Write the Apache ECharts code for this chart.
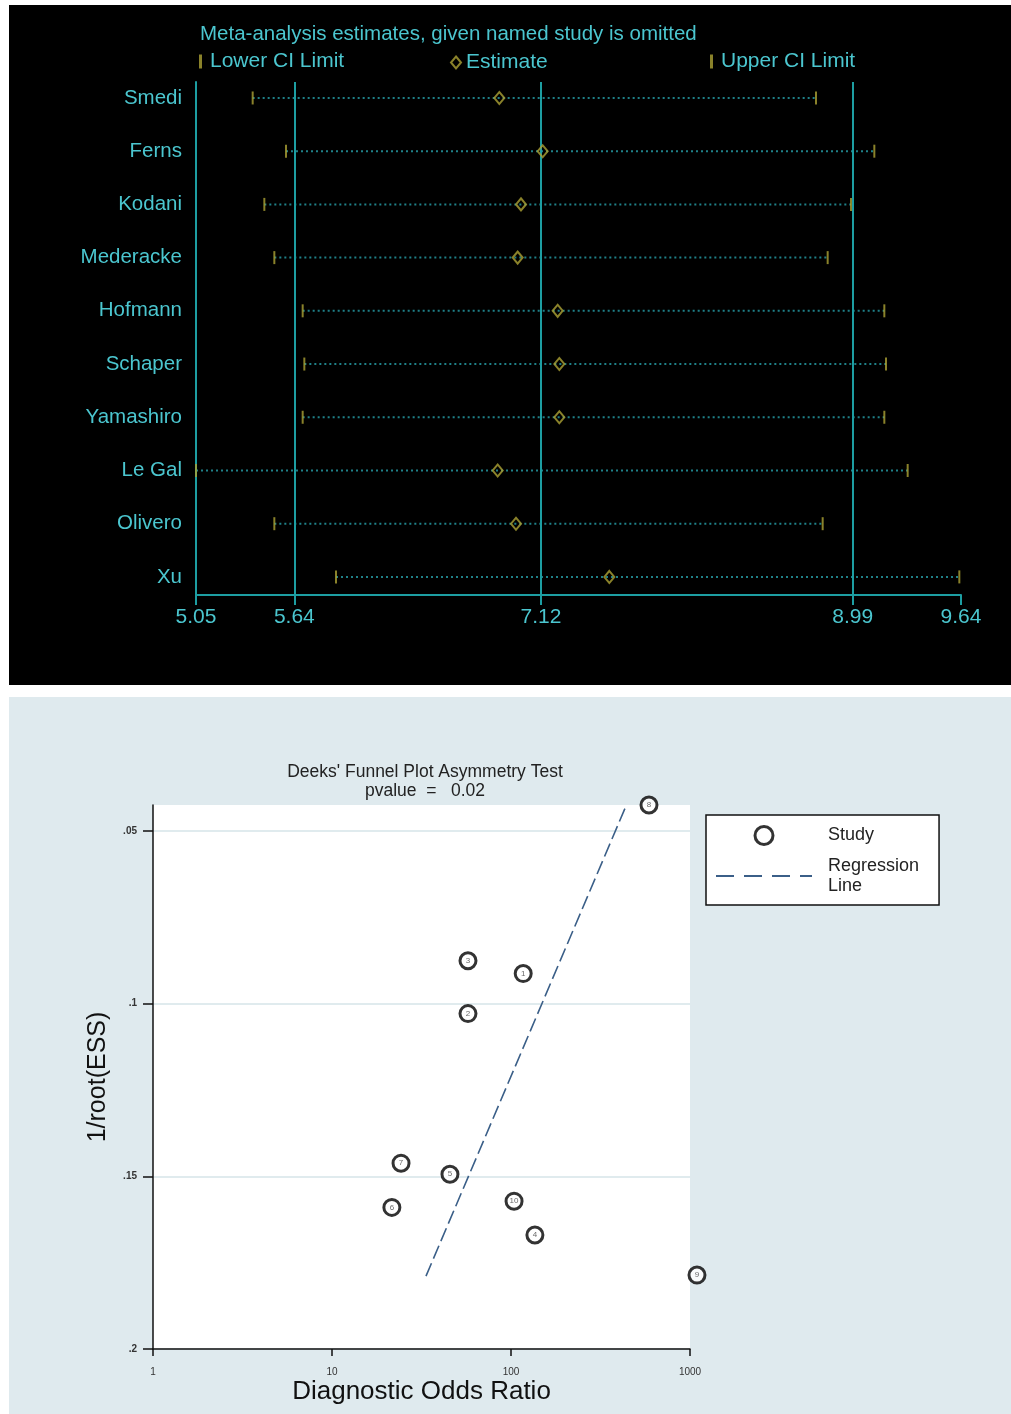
<!DOCTYPE html>
<html>
<head>
<meta charset="utf-8">
<script src="https://cdn.jsdelivr.net/npm/echarts@6/dist/echarts.min.js"></script>
<style>
  html, body { margin: 0; padding: 0; background: #fff; }
  #main { width: 1011px; height: 1414px; }
</style>
</head>
<body>
<div id="main"></div>
<script>
// top panel: leave-one-out sensitivity analysis
var studies = ['Smedi', 'Ferns', 'Kodani', 'Mederacke', 'Hofmann', 'Schaper', 'Yamashiro', 'Le Gal', 'Olivero', 'Xu'];
var lowerCI = [5.39, 5.59, 5.46, 5.52, 5.69, 5.70, 5.69, 5.05, 5.52, 5.89];
var estimate = [6.87, 7.13, 7.00, 6.98, 7.22, 7.23, 7.23, 6.86, 6.97, 7.53];
var upperCI = [8.77, 9.12, 8.98, 8.84, 9.18, 9.19, 9.18, 9.32, 8.81, 9.63];
var refLines = [5.64, 7.12, 8.99];
var topTicks = [5.05, 5.64, 7.12, 8.99, 9.64];

// bottom panel: Deeks' funnel plot
var studyNo = [1, 2, 3, 4, 5, 6, 7, 8, 9, 10];
var dor = [117, 57.5, 57.5, 136, 45.6, 21.6, 24.3, 590, 1094, 104];
var invRootEss = [0.0913, 0.1029, 0.0876, 0.167, 0.1494, 0.159, 0.1462, 0.0425, 0.1786, 0.1572];
var regDor = [33.5, 439];
var regY = [0.1789, 0.0428];
var yTicks = [0.05, 0.1, 0.15, 0.2];
var xTicks = [1, 10, 100, 1000];

var cyan = '#4bc6cf';
var teal = '#1d9ea2';
var olive = '#aca235';
var regColor = '#3b5f88';
var font = 'Liberation Sans, Arial, sans-serif';

var chart = echarts.init(document.getElementById('main'));

var rows = studies.map(function (s, i) { return i; });

var option = {
    animation: false,
    backgroundColor: '#fff',
    graphic: [
        { type: 'rect', z: -10, shape: { x: 9, y: 5, width: 1002, height: 680 }, style: { fill: '#000' } },
        { type: 'rect', z: -10, shape: { x: 9, y: 697, width: 1002, height: 717 }, style: { fill: '#dfeaee' } }
    ],
    title: [
        {
            text: 'Meta-analysis estimates, given named study is omitted',
            left: 200, top: 24, padding: 0,
            textStyle: { color: cyan, fontSize: 20.5, fontWeight: 'normal', fontFamily: font }
        },
        {
            text: "Deeks' Funnel Plot Asymmetry Test\npvalue  =   0.02",
            left: 425, top: 763, padding: 0, textAlign: 'center',
            textStyle: { color: '#222', fontSize: 17.5, fontWeight: 'normal', fontFamily: font, lineHeight: 19 }
        }
    ],
    legend: [
        {
            left: 199, top: 51, padding: 0, selectedMode: false,
            itemWidth: 3, itemHeight: 14,
            data: [{ name: 'Lower CI Limit', icon: 'rect' }],
            textStyle: { color: cyan, fontSize: 21, fontFamily: font, padding: [0, 0, 0, 3] }
        },
        {
            left: 450, top: 52, padding: 0, selectedMode: false,
            itemWidth: 10, itemHeight: 12,
            data: [{ name: 'Estimate', icon: 'diamond', itemStyle: { color: 'rgba(0,0,0,0)', borderColor: olive, borderWidth: 2 } }],
            textStyle: { color: cyan, fontSize: 21, fontFamily: font }
        },
        {
            left: 710, top: 51, padding: 0, selectedMode: false,
            itemWidth: 3, itemHeight: 14,
            data: [{ name: 'Upper CI Limit', icon: 'rect' }],
            textStyle: { color: cyan, fontSize: 21, fontFamily: font, padding: [0, 0, 0, 3] }
        },
        {
            left: 706, top: 815, orient: 'vertical', selectedMode: false,
            padding: [10, 20, 9, 10], itemGap: 10,
            itemWidth: 96, itemHeight: 18,
            backgroundColor: '#fff', borderColor: '#111', borderWidth: 1.5,
            data: [
                { name: 'Study', icon: 'circle', itemStyle: { color: '#fff', borderColor: '#000', borderWidth: 3 } },
                {
                    name: 'Regression Line',
                    icon: 'path://M0,0h18v2h-18z M28,0h18v2h-18z M56,0h18v2h-18z M84,0h12v2h-12z',
                    itemStyle: { color: regColor, borderWidth: 0 }
                }
            ],
            formatter: function (n) { return n === 'Regression Line' ? 'Regression\nLine' : n; },
            textStyle: { color: '#222', fontSize: 18, fontFamily: font, lineHeight: 20, padding: [0, 0, 0, 11] }
        }
    ],
    grid: [
        { left: 196, top: 82, width: 765, height: 513, containLabel: false },
        { left: 153, top: 805, width: 537, height: 544, show: true, backgroundColor: '#fff', borderWidth: 0, containLabel: false }
    ],
    xAxis: [
        {
            gridIndex: 0, type: 'value', min: 5.05, max: 9.64,
            axisLine: { onZero: false, lineStyle: { color: teal, width: 2 } },
            axisTick: { customValues: topTicks, length: 10, lineStyle: { color: teal, width: 2 } },
            axisLabel: {
                customValues: topTicks, color: cyan, fontSize: 21, fontFamily: font, margin: 12,
                formatter: function (v) { return v.toFixed(2); }
            },
            splitLine: { show: false }
        },
        {
            gridIndex: 1, type: 'log', logBase: 10, min: 1, max: 1000,
            name: 'Diagnostic Odds Ratio', nameLocation: 'middle', nameGap: 30,
            nameTextStyle: { color: '#111', fontSize: 26, fontFamily: font },
            axisLine: { onZero: false, lineStyle: { color: '#111', width: 1.5 } },
            axisTick: { customValues: xTicks, length: 7, lineStyle: { color: '#111', width: 1.5 } },
            axisLabel: {
                customValues: xTicks, color: '#333', fontSize: 10, fontFamily: font, margin: 18,
                formatter: function (v) { return String(Math.round(v)); }
            },
            splitLine: { show: false }
        }
    ],
    yAxis: [
        {
            gridIndex: 0, type: 'value', inverse: true, min: -0.3, max: 9.34,
            axisLine: { show: true, onZero: false, lineStyle: { color: teal, width: 2 } },
            axisTick: { show: false },
            axisLabel: {
                customValues: rows, color: cyan, fontSize: 20.5, fontFamily: font, margin: 14,
                formatter: function (v) { return studies[Math.round(v)]; }
            },
            splitLine: { show: false }
        },
        {
            gridIndex: 1, type: 'value', inverse: true, min: 0.0425, max: 0.2,
            name: '1/root(ESS)', nameLocation: 'middle', nameGap: 42, nameRotate: 90,
            nameTextStyle: { color: '#111', fontSize: 25, fontFamily: font },
            axisLine: { show: true, onZero: false, lineStyle: { color: '#111', width: 1.5 } },
            axisTick: { customValues: yTicks, length: 10, lineStyle: { color: '#111', width: 1.5 } },
            axisLabel: {
                customValues: yTicks, color: '#333', fontSize: 10, fontWeight: 'bold', fontFamily: font, margin: 16,
                formatter: function (v) { return String(+v.toFixed(2)).replace(/^0/, ''); }
            },
            splitLine: { show: true, lineStyle: { color: '#d6e4e8', width: 1.5 } }
        }
    ],
    series: [
        {
            name: 'CI range', type: 'custom', xAxisIndex: 0, yAxisIndex: 0, z: 1,
            data: rows.map(function (i) { return [lowerCI[i], upperCI[i], i]; }),
            renderItem: function (params, api) {
                var a = api.coord([api.value(0), api.value(2)]);
                var b = api.coord([api.value(1), api.value(2)]);
                return {
                    type: 'line',
                    shape: { x1: a[0], y1: a[1], x2: b[0], y2: b[1] },
                    style: { stroke: '#1f8088', lineWidth: 2, lineDash: [2, 3] }
                };
            },
            markLine: {
                silent: true, symbol: 'none', label: { show: false },
                lineStyle: { color: teal, width: 2, type: 'solid' },
                data: refLines.map(function (v) { return { xAxis: v }; })
            }
        },
        {
            name: 'Lower CI Limit', type: 'scatter', xAxisIndex: 0, yAxisIndex: 0, z: 5,
            symbol: 'rect', symbolSize: [2, 13],
            itemStyle: { color: olive },
            data: rows.map(function (i) { return [lowerCI[i], i]; })
        },
        {
            name: 'Upper CI Limit', type: 'scatter', xAxisIndex: 0, yAxisIndex: 0, z: 5,
            symbol: 'rect', symbolSize: [2, 13],
            itemStyle: { color: olive },
            data: rows.map(function (i) { return [upperCI[i], i]; })
        },
        {
            name: 'Estimate', type: 'scatter', xAxisIndex: 0, yAxisIndex: 0, z: 5,
            symbol: 'diamond', symbolSize: [10, 12],
            itemStyle: { color: 'rgba(0,0,0,0)', borderColor: olive, borderWidth: 2 },
            data: rows.map(function (i) { return [estimate[i], i]; })
        },
        {
            name: 'Regression Line', type: 'line', xAxisIndex: 1, yAxisIndex: 1,
            symbol: 'none', clip: false, z: 3,
            lineStyle: { color: regColor, width: 1.6, type: [14, 5] },
            itemStyle: { color: regColor },
            data: regDor.map(function (d, i) { return [d, regY[i]]; })
        },
        {
            name: 'Study', type: 'scatter', xAxisIndex: 1, yAxisIndex: 1,
            symbol: 'circle', symbolSize: 16, clip: false, z: 4,
            itemStyle: { color: '#fff', borderColor: '#000', borderWidth: 3 },
            label: {
                show: true, position: 'inside', color: '#444', fontSize: 8, fontFamily: font,
                formatter: function (p) { return studyNo[p.dataIndex]; }
            },
            data: studyNo.map(function (n, i) { return [dor[i], invRootEss[i]]; })
        }
    ]
};

chart.setOption(option);
</script>
</body>
</html>
